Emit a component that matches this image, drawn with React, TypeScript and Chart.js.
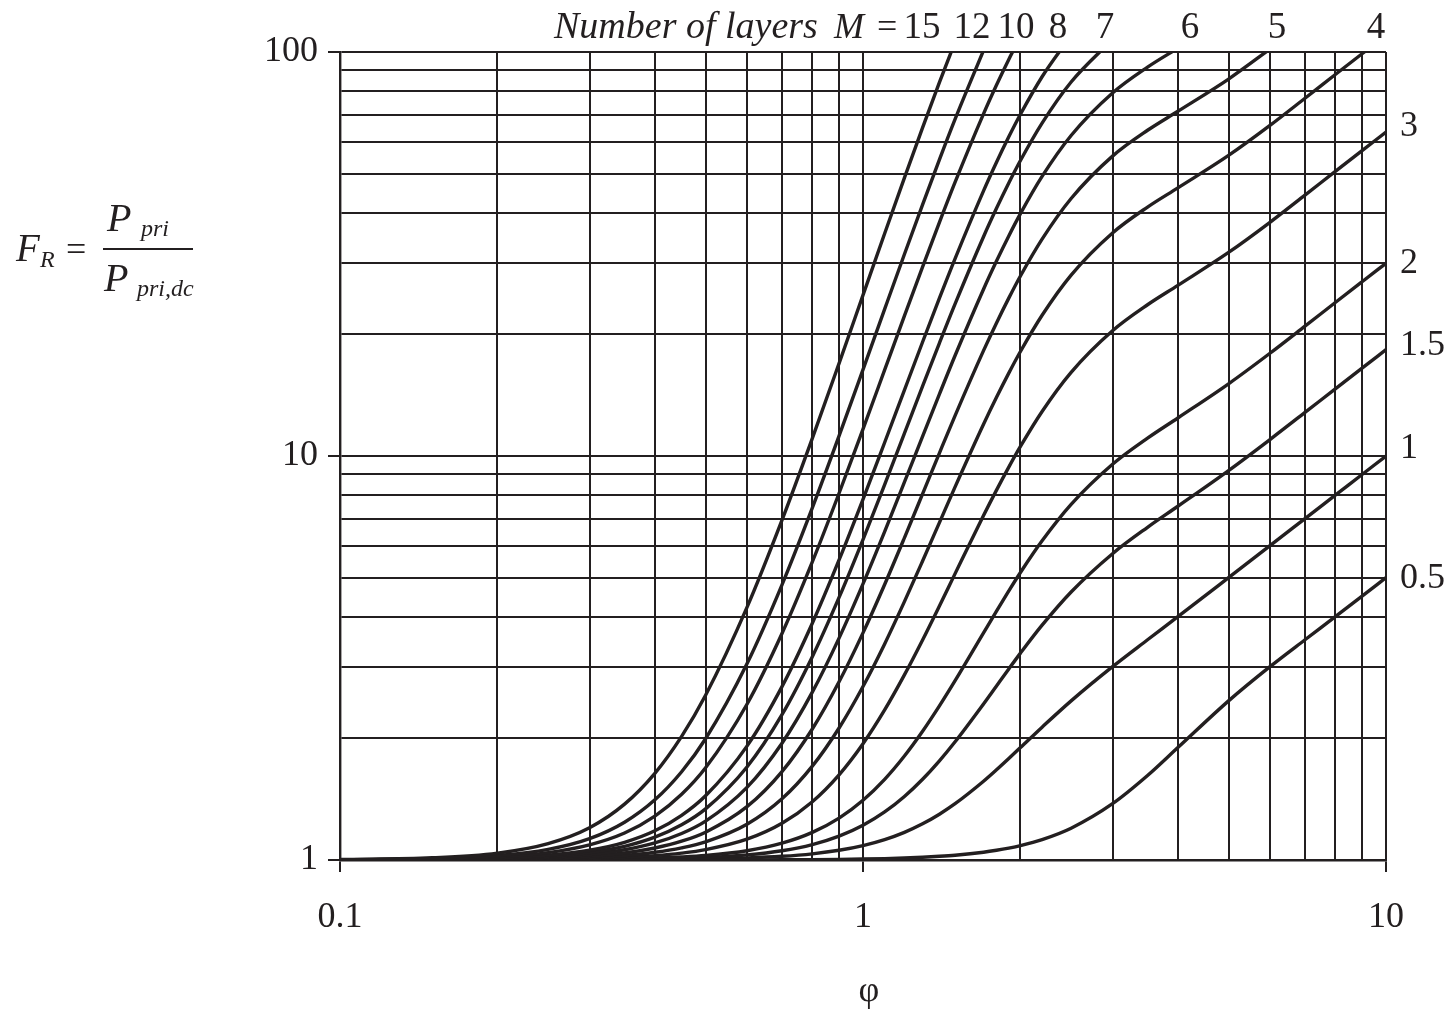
import React, { useEffect, useRef } from 'react';
import { Chart, registerables } from 'chart.js';

Chart.register(...registerables);

// ---------- data ----------
const PHI = [0.1, 0.15, 0.2, 0.25, 0.3, 0.35, 0.4, 0.45, 0.5, 0.6, 0.7, 0.8, 0.9, 1.0, 1.1, 1.2, 1.3, 1.4, 1.5, 1.7, 1.8, 1.9, 2.0, 2.2, 2.5, 3.0, 3.5, 4.0, 5.0, 6.0, 7.0, 8.0, 9.0, 10];

const M_LAYERS = ['15', '12', '10', '8', '7', '6', '5', '4', '3', '2', '1.5', '1', '0.5'];

const FR_M15 = [1.0025, 1.0126, 1.040, 1.098, 1.202, 1.375, 1.639, 2.023, 2.557, 4.220, 6.939, 11.06, 16.96, 25.01, 35.53, 48.79, 64.96, 84.07, 106.0];
const FR_M12 = [1.0016, 1.0081, 1.0256, 1.062, 1.129, 1.240, 1.409, 1.654, 1.996, 3.060, 4.799, 7.438, 11.21, 16.36, 23.09, 31.57, 41.91, 54.14, 68.17, 100.9];
const FR_M10 = [1.0011, 1.0056, 1.0177, 1.043, 1.090, 1.166, 1.284, 1.454, 1.691, 2.430, 3.637, 5.468, 8.087, 11.66, 16.33, 22.22, 29.40, 37.88, 47.62, 70.31, 82.86, 95.88, 109.1];
const FR_M8 = [1.0007, 1.0036, 1.0113, 1.028, 1.057, 1.106, 1.181, 1.290, 1.442, 1.914, 2.686, 3.856, 5.531, 7.814, 10.80, 14.56, 19.15, 24.58, 30.80, 45.31, 53.34, 61.66, 70.12, 86.85, 109.9];
const FR_M7 = [1.0005, 1.0027, 1.0087, 1.021, 1.044, 1.081, 1.139, 1.222, 1.338, 1.699, 2.289, 3.185, 4.466, 6.212, 8.495, 11.37, 14.89, 19.04, 23.80, 34.90, 41.03, 47.40, 53.88, 66.68, 84.29, 107.5];
const FR_M6 = [1.0004, 1.0020, 1.0064, 1.016, 1.032, 1.060, 1.102, 1.163, 1.248, 1.513, 1.946, 2.603, 3.542, 4.823, 6.499, 8.611, 11.19, 14.23, 17.73, 25.87, 30.37, 35.05, 39.80, 49.20, 62.13, 79.17, 91.74, 102.2];
const FR_M5 = [1.0003, 1.0014, 1.0044, 1.011, 1.022, 1.041, 1.071, 1.113, 1.172, 1.355, 1.655, 2.110, 2.761, 3.649, 4.809, 6.273, 8.057, 10.17, 12.59, 18.23, 21.35, 24.59, 27.89, 34.41, 43.38, 55.24, 64.01, 71.34, 85.72, 101.7];
const FR_M4 = [1.0002, 1.0009, 1.0028, 1.007, 1.014, 1.026, 1.045, 1.072, 1.109, 1.226, 1.417, 1.707, 2.122, 2.688, 3.427, 4.360, 5.497, 6.841, 8.384, 11.98, 13.97, 16.04, 18.14, 22.30, 28.04, 35.65, 41.32, 46.09, 55.45, 65.80, 76.82, 87.95, 99.01, 110.0];
const FR_M3 = [1.0001, 1.0005, 1.0016, 1.004, 1.008, 1.015, 1.025, 1.040, 1.061, 1.126, 1.233, 1.394, 1.625, 1.940, 2.352, 2.872, 3.505, 4.254, 5.115, 7.121, 8.232, 9.386, 10.56, 12.89, 16.11, 20.42, 23.68, 26.45, 31.91, 37.89, 44.24, 50.64, 57.01, 63.34];
const FR_M2 = [1.0000, 1.0002, 1.0007, 1.0016, 1.0034, 1.0063, 1.0108, 1.0173, 1.0263, 1.0544, 1.1004, 1.1702, 1.2699, 1.406, 1.584, 1.809, 2.083, 2.407, 2.779, 3.650, 4.132, 4.634, 5.147, 6.166, 7.590, 9.538, 11.07, 12.42, 15.09, 17.96, 20.96, 23.99, 27.00, 30.00];
const FR_M1_5 = [1.0000, 1.0001, 1.0004, 1.0009, 1.0018, 1.0034, 1.0058, 1.0093, 1.0142, 1.0294, 1.0542, 1.0918, 1.1457, 1.2191, 1.3153, 1.4366, 1.5848, 1.7602, 1.9619, 2.4343, 2.6970, 2.9711, 3.2514, 3.8128, 4.6074, 5.7302, 6.6602, 7.5097, 9.2034, 10.983, 12.818, 14.663, 16.501, 18.334];
const FR_M1 = [1.0000, 1.0000, 1.0001, 1.0003, 1.0007, 1.0013, 1.0023, 1.0036, 1.0055, 1.0115, 1.0212, 1.0358, 1.0569, 1.0856, 1.1233, 1.1709, 1.2291, 1.2983, 1.3781, 1.5663, 1.6719, 1.7830, 1.8978, 2.1319, 2.4769, 3.0101, 3.5090, 4.0023, 4.9994, 6.000, 7.000, 8.000, 9.000, 10.00];
const FR_M0_5 = [1.0000, 1.0000, 1.0000, 1.0000, 1.0000, 1.0001, 1.0001, 1.0002, 1.0003, 1.0007, 1.0013, 1.0023, 1.0036, 1.0055, 1.0081, 1.0115, 1.0158, 1.0212, 1.0278, 1.0455, 1.0569, 1.0702, 1.0856, 1.1233, 1.1987, 1.3781, 1.6183, 1.8978, 2.4769, 3.0101, 3.5090, 4.0023, 4.4995, 4.9994];

const SERIES = [FR_M15, FR_M12, FR_M10, FR_M8, FR_M7, FR_M6, FR_M5, FR_M4, FR_M3, FR_M2, FR_M1_5, FR_M1, FR_M0_5];

const X_GRID = [0.1, 0.2, 0.3, 0.4, 0.5, 0.6, 0.7, 0.8, 0.9, 1, 2, 3, 4, 5, 6, 7, 8, 9, 10];
const Y_GRID = [1, 2, 3, 4, 5, 6, 7, 8, 9, 10, 20, 30, 40, 50, 60, 70, 80, 90, 100];
const X_TICK_VALUES = [0.1, 1, 10];
const X_TICK_LABELS = ['0.1', '1', '10'];
const Y_TICK_VALUES = [1, 10, 100];
const Y_TICK_LABELS = ['1', '10', '100'];

const TOP_LABELS = ['15', '12', '10', '8', '7', '6', '5', '4'];
const RIGHT_LABELS = ['3', '2', '1.5', '1', '0.5'];

// ---------- styling ----------
const INK = '#231f20';
const SERIF = '"Liberation Serif", "Times New Roman", serif';
const W = 1455;
const H = 1009;

const TOP_LABEL_X = [922, 972, 1016, 1058, 1105, 1190, 1277, 1376];
const RIGHT_LABEL_Y = [127, 264, 346, 449, 579];

const annotationPlugin = {
  id: 'annotations',
  afterDraw(chart: any) {
    const ctx: CanvasRenderingContext2D = chart.ctx;
    ctx.save();
    ctx.fillStyle = INK;
    ctx.strokeStyle = INK;

    // Top caption
    ctx.textBaseline = 'alphabetic';
    ctx.textAlign = 'left';
    ctx.font = `italic 38px ${SERIF}`;
    ctx.fillText('Number of layers', 554, 38);
    ctx.font = `italic 36px ${SERIF}`;
    ctx.fillText('M', 834, 38);
    ctx.font = `36px ${SERIF}`;
    ctx.fillText('=', 877, 38);
    ctx.font = `37px ${SERIF}`;
    ctx.textAlign = 'center';
    TOP_LABELS.forEach((t, i) => ctx.fillText(t, TOP_LABEL_X[i], 38));

    // Right-hand labels, beside the end of each low-M curve
    ctx.textAlign = 'left';
    ctx.textBaseline = 'middle';
    ctx.font = `36px ${SERIF}`;
    RIGHT_LABELS.forEach((t, i) => {
      ctx.fillText(t, 1400, RIGHT_LABEL_Y[i]);
    });

    // Y-axis formula  F_R = P_pri / P_pri,dc
    ctx.textAlign = 'left';
    ctx.textBaseline = 'alphabetic';
    ctx.font = `italic 39px ${SERIF}`;
    ctx.fillText('F', 16, 261);
    ctx.font = `italic 24px ${SERIF}`;
    ctx.fillText('R', 40, 267);
    ctx.font = `36px ${SERIF}`;
    ctx.fillText('=', 66, 261);
    ctx.lineWidth = 2;
    ctx.beginPath();
    ctx.moveTo(103, 249);
    ctx.lineTo(193, 249);
    ctx.stroke();
    ctx.font = `italic 40px ${SERIF}`;
    ctx.fillText('P', 107, 231);
    ctx.fillText('P', 104, 291);
    ctx.font = `italic 24px ${SERIF}`;
    ctx.fillText('pri', 141, 236);
    ctx.fillText('pri,dc', 137, 296);

    // X-axis title
    ctx.textAlign = 'center';
    ctx.textBaseline = 'middle';
    ctx.font = `36px ${SERIF}`;
    ctx.fillText('\u03C6', 869, 992);

    ctx.restore();
  },
};

export default function App() {
  const canvasRef = useRef<HTMLCanvasElement | null>(null);

  useEffect(() => {
    const canvas = canvasRef.current;
    if (!canvas) return;

    const datasets = SERIES.map((vals, i) => ({
      label: `M = ${M_LAYERS[i]}`,
      data: vals.map((v, j) => ({ x: PHI[j], y: v })),
      borderColor: INK,
      backgroundColor: INK,
      borderWidth: 3.4,
      pointRadius: 0,
      fill: false,
      cubicInterpolationMode: 'monotone' as const,
    }));

    const chart = new Chart(canvas, {
      type: 'line',
      data: { datasets },
      plugins: [annotationPlugin],
      options: {
        animation: false,
        responsive: false,
        devicePixelRatio: 1,
        layout: { padding: { left: 0, top: 52, right: W - 1386, bottom: 0 } },
        plugins: {
          legend: { display: false },
          tooltip: { enabled: false },
        },
        scales: {
          x: {
            type: 'logarithmic',
            min: 0.1,
            max: 10,
            afterBuildTicks: (scale: any) => {
              scale.ticks = X_GRID.map((v) => ({ value: v }));
            },
            afterFit: (scale: any) => {
              scale.height = H - 860;
            },
            ticks: {
              autoSkip: false,
              maxRotation: 0,
              minRotation: 0,
              padding: 24,
              color: INK,
              font: { family: SERIF, size: 36 },
              callback: (value: any) => {
                const k = X_TICK_VALUES.indexOf(Number(value));
                return k >= 0 ? X_TICK_LABELS[k] : '';
              },
            },
            grid: {
              color: INK,
              lineWidth: 2,
              tickLength: 12,
              tickColor: (c: any) => (c.tick && X_TICK_VALUES.indexOf(c.tick.value) >= 0 ? INK : 'rgba(0,0,0,0)'),
              tickWidth: 2,
            },
            border: { display: true, color: INK, width: 2.4 },
          },
          y: {
            type: 'logarithmic',
            min: 1,
            max: 100,
            afterBuildTicks: (scale: any) => {
              scale.ticks = Y_GRID.map((v) => ({ value: v }));
            },
            afterFit: (scale: any) => {
              scale.width = 340;
            },
            ticks: {
              autoSkip: false,
              padding: 10,
              color: INK,
              font: { family: SERIF, size: 36 },
              callback: (value: any) => {
                const k = Y_TICK_VALUES.indexOf(Number(value));
                return k >= 0 ? Y_TICK_LABELS[k] : '';
              },
            },
            grid: {
              color: INK,
              lineWidth: 2,
              tickLength: 12,
              tickColor: (c: any) => (c.tick && Y_TICK_VALUES.indexOf(c.tick.value) >= 0 ? INK : 'rgba(0,0,0,0)'),
              tickWidth: 2,
            },
            border: { display: true, color: INK, width: 2.4 },
          },
        },
      },
    });

    return () => {
      chart.destroy();
    };
  }, []);

  return (
    <div style={{ position: 'fixed', left: 0, top: 0, width: W, height: H, background: '#ffffff' }}>
      <canvas ref={canvasRef} width={W} height={H} style={{ width: W, height: H, display: 'block' }} />
    </div>
  );
}
